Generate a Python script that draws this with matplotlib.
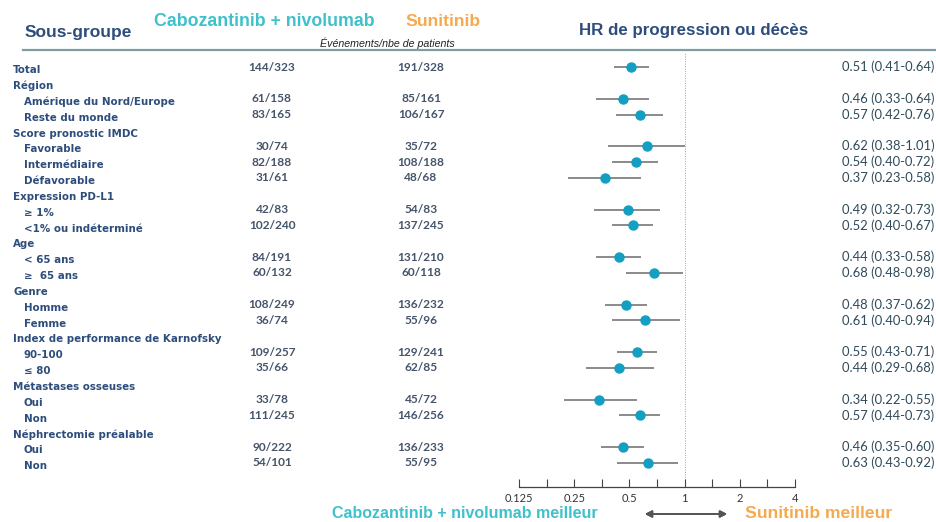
import matplotlib.pyplot as plt
import matplotlib.transforms as mtransforms
from matplotlib.lines import Line2D
import numpy as np

# rows: label, indent (1 = sub-item); data_rows = rows that carry an estimate
labels = ["Total", "Région", "Amérique du Nord/Europe", "Reste du monde",
          "Score pronostic IMDC", "Favorable", "Intermédiaire", "Défavorable",
          "Expression PD-L1", "≥ 1%", "<1% ou indéterminé",
          "Age", "< 65 ans", "≥  65 ans",
          "Genre", "Homme", "Femme",
          "Index de performance de Karnofsky", "90-100", "≤ 80",
          "Métastases osseuses", "Oui", "Non",
          "Néphrectomie préalable", "Oui", "Non"]
indent = [0, 0, 1, 1, 0, 1, 1, 1, 0, 1, 1, 0, 1, 1, 0, 1, 1, 0, 1, 1, 0, 1, 1, 0, 1, 1]
data_rows = [0, 2, 3, 5, 6, 7, 9, 10, 12, 13, 15, 16, 18, 19, 21, 22, 24, 25]

cabo_counts = ["144/323", "61/158", "83/165", "30/74", "82/188", "31/61", "42/83", "102/240",
               "84/191", "60/132", "108/249", "36/74", "109/257", "35/66", "33/78", "111/245",
               "90/222", "54/101"]
suni_counts = ["191/328", "85/161", "106/167", "35/72", "108/188", "48/68", "54/83", "137/245",
               "131/210", "60/118", "136/232", "55/96", "129/241", "62/85", "45/72", "146/256",
               "136/233", "55/95"]
hr = [0.51, 0.46, 0.57, 0.62, 0.54, 0.37, 0.49, 0.52, 0.44, 0.68, 0.48, 0.61, 0.55, 0.44,
      0.34, 0.57, 0.46, 0.63]
hr_lo = [0.41, 0.33, 0.42, 0.38, 0.40, 0.23, 0.32, 0.40, 0.33, 0.48, 0.37, 0.40, 0.43, 0.29,
         0.22, 0.44, 0.35, 0.43]
hr_hi = [0.64, 0.64, 0.76, 1.01, 0.72, 0.58, 0.73, 0.67, 0.58, 0.98, 0.62, 0.94, 0.71, 0.68,
         0.55, 0.73, 0.60, 0.92]
x_ticks = [0.125, 0.25, 0.5, 1, 2, 4]
x_ticklabels = ["0.125", "0.25", "0.5", "1", "2", "4"]

NAVY = "#2d4d7c"
TEAL = "#3fc1cb"
ORANGE = "#f6a94e"
DOT = "#139fc2"
W, H = 936, 522

fig = plt.figure(figsize=(W / 100, H / 100), dpi=100)
ax = fig.add_axes([519 / W, 35 / H, 276 / W, (487 - 52) / H])

n = len(labels)
ax.set_xscale("log", base=2)
ax.set_xlim(0.125, 4)
ax.set_ylim(n - 1 + 24 / 15.8, -15 / 15.8)

ys = np.array(data_rows)
ax.hlines(ys, hr_lo, hr_hi, color="#8a8a8a", lw=1.4, zorder=2)
ax.plot(hr, ys, "o", color=DOT, ms=6.5, zorder=3)
ax.axvline(1, color="#a0a0a0", lw=0.7, ls=(0, (1, 1.5)), zorder=1)

for s in ["top", "left", "right"]:
    ax.spines[s].set_visible(False)
ax.spines["bottom"].set_color("#444444")
ax.spines["bottom"].set_linewidth(0.9)
ax.set_yticks([])
ax.set_xticks(x_ticks)
ax.set_xticklabels(x_ticklabels, fontsize=8, family="Lato", color="#333333")
ax.set_xticks([x * np.sqrt(2) for x in x_ticks[:-1]], minor=True)
ax.xaxis.set_minor_formatter(plt.NullFormatter())
ax.tick_params(axis="x", which="both", direction="in", length=6, width=0.8,
               color="#444444", pad=4)
ax.patch.set_visible(False)

tr = mtransforms.blended_transform_factory(fig.transFigure, ax.transData)

for i, (lab, ind) in enumerate(zip(labels, indent)):
    x = (24 if ind else 13) / W
    ax.text(x, i + 0.2, lab, transform=tr, ha="left", va="center", fontsize=7.4,
            fontweight="bold", family="DejaVu Sans", color=NAVY)

for k, row in enumerate(data_rows):
    ax.text(272 / W, row, cabo_counts[k], transform=tr, ha="center", va="center",
            fontsize=8.6, family="Lato", fontweight="bold", color="#44546a")
    ax.text(421 / W, row, suni_counts[k], transform=tr, ha="center", va="center",
            fontsize=8.6, family="Lato", fontweight="bold", color="#44546a")
    ax.text(842 / W, row, f"{hr[k]:.2f} ({hr_lo[k]:.2f}-{hr_hi[k]:.2f})", transform=tr,
            ha="left", va="center", fontsize=9.4, family="Lato", color="#2f4a5a")

# header
fig.text(25 / W, 1 - 32 / H, "Sous-groupe", ha="left", va="center", fontsize=12.5,
         fontweight="bold", family="Liberation Sans", color=NAVY)
fig.text(154 / W, 1 - 22 / H, "Cabozantinib + nivolumab", ha="left", va="center",
         fontsize=12.8, fontweight="bold", family="Liberation Sans", color=TEAL)
fig.text(405 / W, 1 - 22 / H, "Sunitinib", ha="left", va="center", fontsize=12.6,
         fontweight="bold", family="Liberation Sans", color=ORANGE)
fig.text(455 / W, 1 - 43 / H, "Événements/nbe de patients", ha="right", va="center",
         fontsize=7.7, style="italic", family="Liberation Sans", color="#222222")
fig.text(694 / W, 1 - 30 / H, "HR de progression ou décès", ha="center", va="center",
         fontsize=12.2, fontweight="bold", family="Liberation Sans", color=NAVY)
fig.add_artist(Line2D([23 / W, 1], [1 - 50 / H, 1 - 50 / H], transform=fig.transFigure,
                      color="#7f9ea4", lw=1.6))

# footer
fig.text(598 / W, 1 - 513 / H, "Cabozantinib + nivolumab meilleur", ha="right", va="center",
         fontsize=11.5, fontweight="bold", family="Liberation Sans", color=TEAL)
fig.text(745 / W, 1 - 513 / H, "Sunitinib meilleur", ha="left", va="center",
         fontsize=12.6, fontweight="bold", family="Liberation Sans", color=ORANGE)
fig.add_artist(plt.annotate("", xy=(730 / W, 1 - 514 / H), xytext=(642 / W, 1 - 514 / H),
                            xycoords="figure fraction", textcoords="figure fraction",
                            arrowprops=dict(arrowstyle="<|-|>", color="#555555", lw=1.3,
                                            mutation_scale=10)))

fig.savefig("out.png", dpi=100)
